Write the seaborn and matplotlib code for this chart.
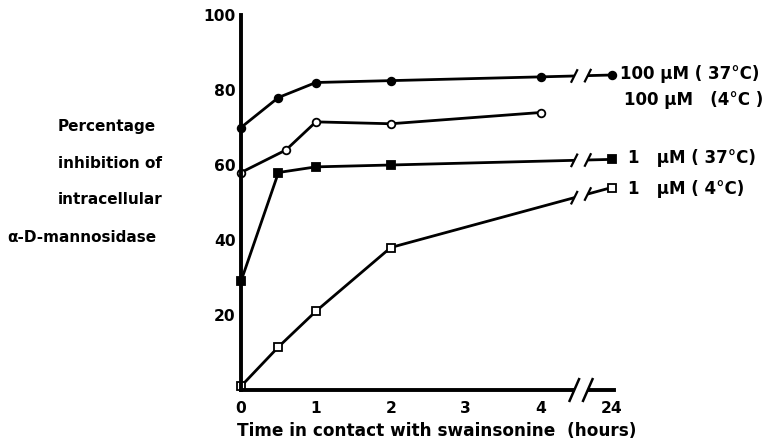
import numpy as np
import pandas as pd
import matplotlib
matplotlib.use("Agg")
import matplotlib.pyplot as plt
from matplotlib.patches import Rectangle
import seaborn as sns

# ---- data ----
t_100_37 = [0, 0.5, 1, 2, 4, 24]
v_100_37 = [70, 78, 82, 82.5, 83.5, 84]
t_100_4 = [0, 0.6, 1, 2, 4]
v_100_4 = [58, 64, 71.5, 71, 74]
t_1_37 = [0, 0.5, 1, 2, 24]
v_1_37 = [29, 58, 59.5, 60, 61.5]
t_1_4 = [0, 0.5, 1, 2, 24]
v_1_4 = [1, 11.5, 21, 38, 54]

series_names = ["100 µM (37°C)", "100 µM (4°C)", "1 µM (37°C)", "1 µM (4°C)"]
series_labels = ["100 µM ( 37°C)", "100 µM   (4°C )", "1   µM ( 37°C)", "1   µM ( 4°C)"]
x_tick_hours = [0, 1, 2, 3, 4, 24]
y_ticks = [20, 40, 60, 80, 100]

# broken axis: 0-4 h linear, 24 h placed just after the break
POS_24 = 4.95
BREAK_A, BREAK_B = 4.45, 4.63


def xpos(h):
    return h if h <= 4 else POS_24


sns.set_theme(style="white")
plt.rcParams['font.family'] = ['DejaVu Sans']
plt.rcParams['font.weight'] = 'bold'
plt.rcParams['text.color'] = 'black'
plt.rcParams['axes.labelcolor'] = 'black'
plt.rcParams['xtick.color'] = 'black'
plt.rcParams['ytick.color'] = 'black'

fig = plt.figure(figsize=(7.72, 4.46), dpi=100)
W, H = 772, 446
ax = fig.add_axes([241 / W, 56 / H, (614 - 241) / W, (390 - 15) / H])

specs = [
    (t_100_37, v_100_37, 'o', 'black'),
    (t_100_4, v_100_4, 'o', 'white'),
    (t_1_37, v_1_37, 's', 'black'),
    (t_1_4, v_1_4, 's', 'white'),
]

for name, (ts, vs, mk, fc) in zip(series_names, specs):
    df = pd.DataFrame({"pos": [xpos(t) for t in ts], "value": vs})
    sns.lineplot(data=df, x="pos", y="value", ax=ax, color="black",
                 linewidth=2.0, marker=mk, markersize=5.5,
                 markerfacecolor=fc, markeredgecolor="black",
                 markeredgewidth=1.3, clip_on=False, sort=False, zorder=2)

ax.set_xlim(0, 4.98)
ax.set_ylim(0, 100)

# gap for the axis break
ax.add_patch(Rectangle((BREAK_A, -4), BREAK_B - BREAK_A, 106, facecolor="white",
                       edgecolor="none", zorder=3, clip_on=False))


def slash(x, y, dx, dy, lw=1.6):
    ax.plot([x - dx, x + dx], [y - dy, y + dy], color="black", lw=lw,
            clip_on=False, zorder=4, solid_capstyle="butt")


# break marks on the series that continue to 24 h
for ts, vs, mk, fc in specs:
    if ts[-1] == 24:
        x0, y0 = xpos(ts[-2]), vs[-2]
        x1, y1 = xpos(ts[-1]), vs[-1]
        for xb in (BREAK_A, BREAK_B):
            yb = y0 + (y1 - y0) * (xb - x0) / (x1 - x0)
            slash(xb, yb, 0.045, 1.8)

# break marks on the x axis
for xb in (BREAK_A, BREAK_B):
    slash(xb, 0, 0.07, 3.2, lw=1.8)

ax.set_xticks([xpos(h) for h in x_tick_hours])
ax.set_xticklabels([str(h) for h in x_tick_hours])
ax.set_yticks(y_ticks)
ax.set_yticklabels([str(v) for v in y_ticks])
ax.tick_params(axis="both", direction="in", length=5, width=1.6,
               labelsize=11.2, colors="black", pad=4)
ax.tick_params(axis="x", pad=8)
for lab in ax.get_xticklabels() + ax.get_yticklabels():
    lab.set_fontweight("bold")

for side in ("top", "right"):
    ax.spines[side].set_visible(False)
for side in ("left", "bottom"):
    ax.spines[side].set_linewidth(2.8)
    ax.spines[side].set_color("black")

ax.set_xlabel("Time in contact with swainsonine  (hours)", fontsize=12.2,
              fontweight="bold", va="center")
ax.xaxis.set_label_coords((437 - 241) / 373, (390 - 431) / 375)
ax.set_ylabel("")

# series labels on the right
label_y = [74, 100, 158, 189]
label_x = [620, 624, 628, 628]
for txt, lx, ly in zip(series_labels, label_x, label_y):
    fig.text(lx / W, 1 - ly / H, txt, fontsize=12, fontweight="bold",
             ha="left", va="center", color="black")

# y-axis description
ylab_lines = ["Percentage", "inhibition of", "intracellular", "α-D-mannosidase"]
ylab_x = [58, 58, 58, 7]
ylab_y = [127, 164, 200, 237]
for txt, lx, ly in zip(ylab_lines, ylab_x, ylab_y):
    fig.text(lx / W, 1 - ly / H, txt, fontsize=11, fontweight="bold",
             ha="left", va="center", color="black")

fig.savefig("out.png", dpi=100)
